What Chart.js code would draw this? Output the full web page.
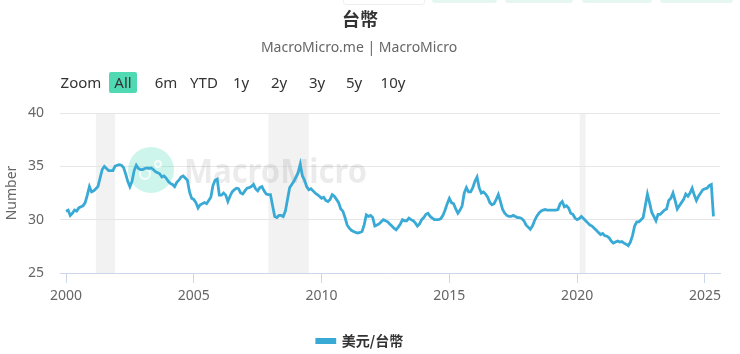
<!DOCTYPE html>
<html>
<head>
<meta charset="utf-8">
<script src="https://cdn.jsdelivr.net/npm/chart.js@4/dist/chart.umd.min.js"></script>
<style>
  html, body { margin: 0; padding: 0; background: #fff; overflow: hidden; }
  #wrap { position: relative; width: 740px; height: 354px; font-family: "Noto Sans", "Noto Sans CJK TC", sans-serif; }
  #c { position: absolute; left: 0; top: 0; }
  .title { position: absolute; left: 0; width: 720px; text-align: center; top: 5px; font-size: 18px; font-weight: bold; color: #333; font-family: "Noto Sans CJK TC", sans-serif; }
  .subtitle { position: absolute; left: 0; width: 718px; text-align: center; top: 37px; font-size: 14px; color: #666; }
  .btn { position: absolute; top: 72px; height: 21px; line-height: 21px; font-size: 15px; color: #333; text-align: center; }
  .btn.sel { background: #50dab4; border-radius: 2px; }
  .topbox { position: absolute; top: -10px; height: 13px; border-radius: 3px; background: #e6f7f2; }
</style>
</head>
<body>
<div id="wrap">
  <canvas id="c" width="740" height="354"></canvas>
  <div class="topbox" style="left:343px;width:80px;background:#fff;border:1px solid #eee;"></div>
  <div class="topbox" style="left:432px;width:65px;"></div>
  <div class="topbox" style="left:505px;width:68px;"></div>
  <div class="topbox" style="left:582px;width:70px;"></div>
  <div class="topbox" style="left:660px;width:73px;"></div>
  <div class="title">台幣</div>
  <div class="subtitle">MacroMicro.me | MacroMicro</div>
  <div id="btns"></div>
</div>
<script>
// ---- data ----
const title = '台幣';
const seriesName = '美元/台幣';
const startYear = 2000; // first value = Jan 2000, monthly
const monthlyValues = [
  // 2000
  30.8, 30.9, 30.4, 30.6, 30.9, 30.8, 31.1, 31.2, 31.3, 31.6, 32.3, 33.1,
  // 2001
  32.6, 32.7, 32.9, 33.1, 33.9, 34.7, 35.0, 34.8, 34.6, 34.6, 34.6, 35.0,
  // 2002
  35.1, 35.15, 35.1, 34.9, 34.3, 33.6, 33.1, 33.6, 34.6, 35.1, 34.8, 34.7,
  // 2003
  34.7, 34.8, 34.85, 34.8, 34.85, 34.7, 34.5, 34.4, 34.3, 34.0, 34.1, 33.9,
  // 2004
  33.6, 33.4, 33.3, 33.1, 33.5, 33.7, 34.0, 34.1, 33.9, 33.7, 32.6, 32.0,
  // 2005
  31.9, 31.6, 31.1, 31.4, 31.5, 31.6, 31.5, 31.8, 32.1, 33.2, 33.7, 33.8,
  // 2006
  32.3, 32.3, 32.5, 32.3, 31.7, 32.2, 32.6, 32.8, 32.95, 32.9, 32.5, 32.4,
  // 2007
  32.7, 32.95, 33.0, 33.1, 33.3, 32.9, 32.7, 33.0, 33.1, 32.7, 32.4, 32.35,
  // 2008
  32.35, 31.3, 30.3, 30.2, 30.4, 30.4, 30.3, 30.8, 31.9, 33.0, 33.3, 33.6,
  // 2009
  34.0, 34.4, 35.2, 34.1, 33.7, 33.1, 32.8, 32.9, 32.7, 32.5, 32.35, 32.2,
  // 2010
  32.0, 32.1, 31.8, 31.7, 31.9, 32.35, 32.2, 31.9, 31.6, 31.0, 30.8, 30.2,
  // 2011
  29.5, 29.2, 29.0, 28.9, 28.8, 28.75, 28.8, 28.9, 29.5, 30.45, 30.3, 30.4,
  // 2012
  30.2, 29.4, 29.5, 29.6, 29.8, 30.0, 29.9, 29.8, 29.6, 29.4, 29.2, 29.05,
  // 2013
  29.3, 29.6, 30.0, 29.9, 29.9, 30.15, 30.0, 29.9, 29.7, 29.4, 29.6, 30.0,
  // 2014
  30.2, 30.5, 30.6, 30.3, 30.15, 30.0, 30.0, 30.0, 30.1, 30.4, 30.9, 31.5,
  // 2015
  32.0, 31.6, 31.5, 31.0, 30.6, 30.9, 31.3, 32.5, 33.0, 32.6, 32.6, 33.0,
  // 2016
  33.6, 34.0, 33.0, 32.5, 32.6, 32.4, 32.1, 31.6, 31.4, 31.5, 31.9, 32.35,
  // 2017
  31.7, 30.95, 30.6, 30.4, 30.3, 30.3, 30.4, 30.3, 30.2, 30.2, 30.1, 29.9,
  // 2018
  29.5, 29.3, 29.1, 29.4, 29.9, 30.3, 30.6, 30.8, 30.9, 30.95, 30.9, 30.9,
  // 2019
  30.9, 30.9, 30.9, 30.95, 31.5, 31.7, 31.2, 31.3, 31.1, 30.6, 30.5, 30.15,
  // 2020
  30.0, 30.1, 30.3, 30.1, 29.9, 29.7, 29.5, 29.4, 29.2, 29.0, 28.8, 28.6,
  // 2021
  28.7, 28.5, 28.45, 28.3, 28.0, 27.8, 27.9, 28.0, 27.9, 27.95, 27.8, 27.7,
  // 2022
  27.55, 27.9, 28.5, 29.4, 29.8, 29.8, 30.0, 30.2, 31.3, 32.4, 31.6, 30.7,
  // 2023
  30.3, 29.9, 30.5, 30.5, 30.7, 30.9, 31.0, 31.8, 32.0, 32.5, 31.8, 31.0,
  // 2024
  31.3, 31.6, 31.9, 32.4, 32.2, 32.5, 32.95, 32.3, 31.8, 32.2, 32.5, 32.8,
  // 2025
  32.9, 32.95, 33.2, 33.3, 30.3
];
const recessions = [[2001.17, 2001.92], [2007.92, 2009.5], [2020.1, 2020.33]];
const xTickYears = [2000, 2005, 2010, 2015, 2020, 2025];
const yTicks = [25, 30, 35, 40];
const zoomButtons = ['Zoom', 'All', '6m', 'YTD', '1y', '2y', '3y', '5y', '10y'];

// ---- zoom buttons (HTML text) ----
const btnCenters = [81, 123, 166, 204, 241, 279, 317, 354, 393];
const btnWidths = [44, 28, 28, 34, 24, 24, 24, 24, 30];
const btnWrap = document.getElementById('btns');
zoomButtons.forEach((t, i) => {
  const d = document.createElement('div');
  d.className = 'btn' + (t === 'All' ? ' sel' : '');
  d.textContent = t;
  d.style.left = (btnCenters[i] - btnWidths[i] / 2) + 'px';
  d.style.width = btnWidths[i] + 'px';
  btnWrap.appendChild(d);
});

const points = monthlyValues.map((v, i) => ({ x: startYear + i / 12, y: v }));
const lineColor = '#39aad5';

const bgPlugin = {
  id: 'bg',
  beforeDraw(chart) {
    const { ctx, chartArea, scales } = chart;
    ctx.save();
    ctx.fillStyle = '#f2f2f2';
    recessions.forEach(([a, b]) => {
      const x1 = scales.x.getPixelForValue(a), x2 = scales.x.getPixelForValue(b);
      ctx.fillRect(x1, chartArea.top, x2 - x1, chartArea.bottom - chartArea.top);
    });
    ctx.restore();
  },
  beforeDatasetsDraw(chart) {
    const { ctx } = chart;
    ctx.save();
    // watermark logo circle
    ctx.fillStyle = 'rgba(80,220,185,0.28)';
    ctx.beginPath();
    ctx.arc(151, 170, 23, 0, Math.PI * 2);
    ctx.fill();
    ctx.strokeStyle = 'rgba(255,255,255,0.8)';
    ctx.lineWidth = 2;
    ctx.beginPath();
    ctx.arc(145, 174, 5, 0, Math.PI * 2);
    ctx.stroke();
    ctx.beginPath();
    ctx.arc(158, 164, 3, 0, Math.PI * 2);
    ctx.stroke();
    // watermark text, fitted to its width in the reference
    ctx.fillStyle = 'rgba(0,0,0,0.08)';
    ctx.font = 'bold 34px "Noto Sans", sans-serif';
    ctx.textBaseline = 'alphabetic';
    const w = ctx.measureText('MacroMicro').width;
    ctx.translate(184, 183);
    ctx.scale(183 / w, 1);
    ctx.fillText('MacroMicro', 0, 0);
    ctx.restore();
  }
};

new Chart(document.getElementById('c'), {
  type: 'line',
  data: {
    datasets: [{
      label: seriesName,
      data: points,
      borderColor: lineColor,
      backgroundColor: lineColor,
      borderWidth: 2.8,
      pointRadius: 0,
      tension: 0
    }]
  },
  options: {
    responsive: false,
    animation: false,
    layout: { padding: { top: 113, right: 20, left: 0, bottom: -4 } },
    plugins: {
      legend: {
        position: 'bottom',
        labels: {
          boxWidth: 18,
          boxHeight: 3,
          color: '#333',
          font: { family: '"Noto Sans CJK TC", sans-serif', size: 14, weight: 'bold' }
        }
      },
      tooltip: { enabled: false }
    },
    scales: {
      x: {
        type: 'linear',
        min: 1999.765,
        max: 2025.59,
        afterBuildTicks: s => { s.ticks = xTickYears.map(v => ({ value: v })); },
        afterFit: s => { s.height = 51; },
        ticks: {
          color: '#666',
          padding: 5,
          maxRotation: 0,
          font: { family: '"Noto Sans", sans-serif', size: 14 },
          callback: v => String(v)
        },
        grid: { drawOnChartArea: false, drawTicks: true, tickLength: 10, color: '#ccd6eb' },
        border: { display: true, color: '#ccd6eb' }
      },
      y: {
        min: 25,
        max: 40,
        afterBuildTicks: s => { s.ticks = yTicks.map(v => ({ value: v })); },
        afterFit: s => { s.width = 60; },
        ticks: {
          color: '#666',
          padding: 16,
          font: { family: '"Noto Sans", sans-serif', size: 14 }
        },
        grid: { color: '#e6e6e6', drawTicks: false },
        border: { display: false },
        title: {
          display: true,
          text: 'Number',
          color: '#666',
          font: { family: '"Noto Sans", sans-serif', size: 14 }
        }
      }
    }
  },
  plugins: [bgPlugin]
});
</script>
</body>
</html>
